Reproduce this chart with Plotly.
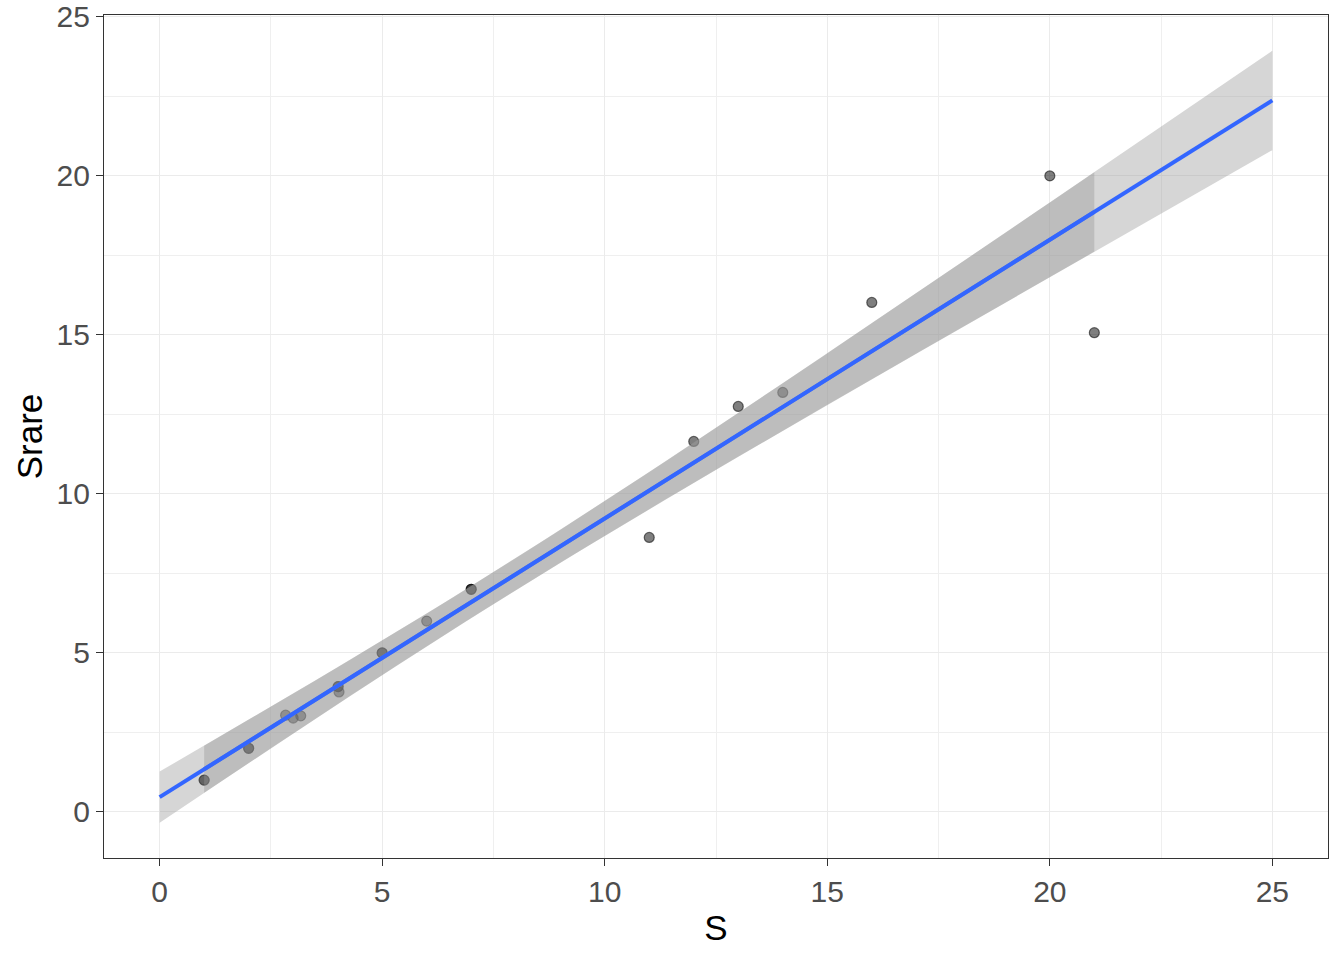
import numpy as np
import plotly.graph_objects as go

# observed richness vs rarefied richness (darker dots are overlapping duplicates)
s_values = [1, 1, 2, 2, 2.83, 3, 3.17, 4.01, 4.01, 4.03, 5, 5, 6, 7, 7, 11, 12, 13, 14, 16, 20, 21]
srare_values = [1, 1, 2, 2, 3.04, 2.95, 3.02, 3.94, 3.94, 3.77, 5, 5, 6, 7, 7, 8.63, 11.65, 12.75, 13.19, 16.02, 20, 15.07]

x_ticks = [0, 5, 10, 15, 20, 25]
y_ticks = [0, 5, 10, 15, 20, 25]
full_range = [0, 25]

T_975 = 2.086  # t quantile, df = n - 2 = 20


def lm_band(xs, ys, lo, hi, n=80):
    xs = np.asarray(xs, float)
    ys = np.asarray(ys, float)
    slope, icept = np.polyfit(xs, ys, 1)
    resid = ys - (icept + slope * xs)
    s = np.sqrt(np.sum(resid ** 2) / (len(xs) - 2))
    sxx = np.sum((xs - xs.mean()) ** 2)
    grid = np.linspace(lo, hi, n)
    fit = icept + slope * grid
    se = s * np.sqrt(1 / len(xs) + (grid - xs.mean()) ** 2 / sxx)
    return grid, fit, fit - T_975 * se, fit + T_975 * se


def ribbon(grid, lower, upper):
    return go.Scatter(
        x=np.concatenate([grid, grid[::-1]]),
        y=np.concatenate([upper, lower[::-1]]),
        fill="toself", fillcolor="rgba(153,153,153,0.4)",
        line=dict(width=0), mode="lines", hoverinfo="skip", showlegend=False,
    )


fig = go.Figure()

fig.add_trace(go.Scatter(
    x=s_values, y=srare_values, mode="markers",
    marker=dict(size=10, color="rgba(0,0,0,0.5)",
                line=dict(color="rgba(0,0,0,0.55)", width=1.2)),
    showlegend=False,
))

# smoother over the data range and over the full x range (overlapping ribbons)
g_data, f_data, lo_data, up_data = lm_band(s_values, srare_values, min(s_values), max(s_values))
g_full, f_full, lo_full, up_full = lm_band(s_values, srare_values, full_range[0], full_range[1])

fig.add_trace(ribbon(g_data, lo_data, up_data))
fig.add_trace(go.Scatter(x=g_data, y=f_data, mode="lines",
                         line=dict(color="#3366FF", width=4), showlegend=False))
fig.add_trace(ribbon(g_full, lo_full, up_full))
fig.add_trace(go.Scatter(x=g_full, y=f_full, mode="lines",
                         line=dict(color="#3366FF", width=4), showlegend=False))

axis_common = dict(
    showgrid=True, gridcolor="#EBEBEB", gridwidth=1.3, automargin=False,
    ticklabeloverflow="allow",
    zeroline=False, showline=True, linecolor="#333333", linewidth=1.2, mirror=True,
    ticks="outside", ticklen=7, tickwidth=1.3, tickcolor="#333333",
    tickfont=dict(size=30, color="#4D4D4D", family="Liberation Sans, Arial"),
    title_font=dict(size=35, color="black", family="Liberation Sans, Arial"),
)

fig.update_layout(
    width=1344, height=960,
    margin=dict(l=104, r=16, t=15, b=102),
    paper_bgcolor="white", plot_bgcolor="white",
    xaxis=dict(axis_common, title=dict(text="S", standoff=8),
               range=[-1.25, 26.25], tickvals=x_ticks,
               minor=dict(dtick=2.5, tick0=0, showgrid=True, gridcolor="#EFEFEF",
                          gridwidth=0.7, ticks="")),
    yaxis=dict(axis_common, title=dict(text="Srare", standoff=3),
               range=[-1.45, 25.06], tickvals=y_ticks,
               minor=dict(dtick=2.5, tick0=0, showgrid=True, gridcolor="#EFEFEF",
                          gridwidth=0.7, ticks="")),
)

# drop the default body margin so the figure sits at the page corner
fig.write_html("out.html", config={"displayModeBar": False},
               post_script="document.body.style.margin = '0';")
